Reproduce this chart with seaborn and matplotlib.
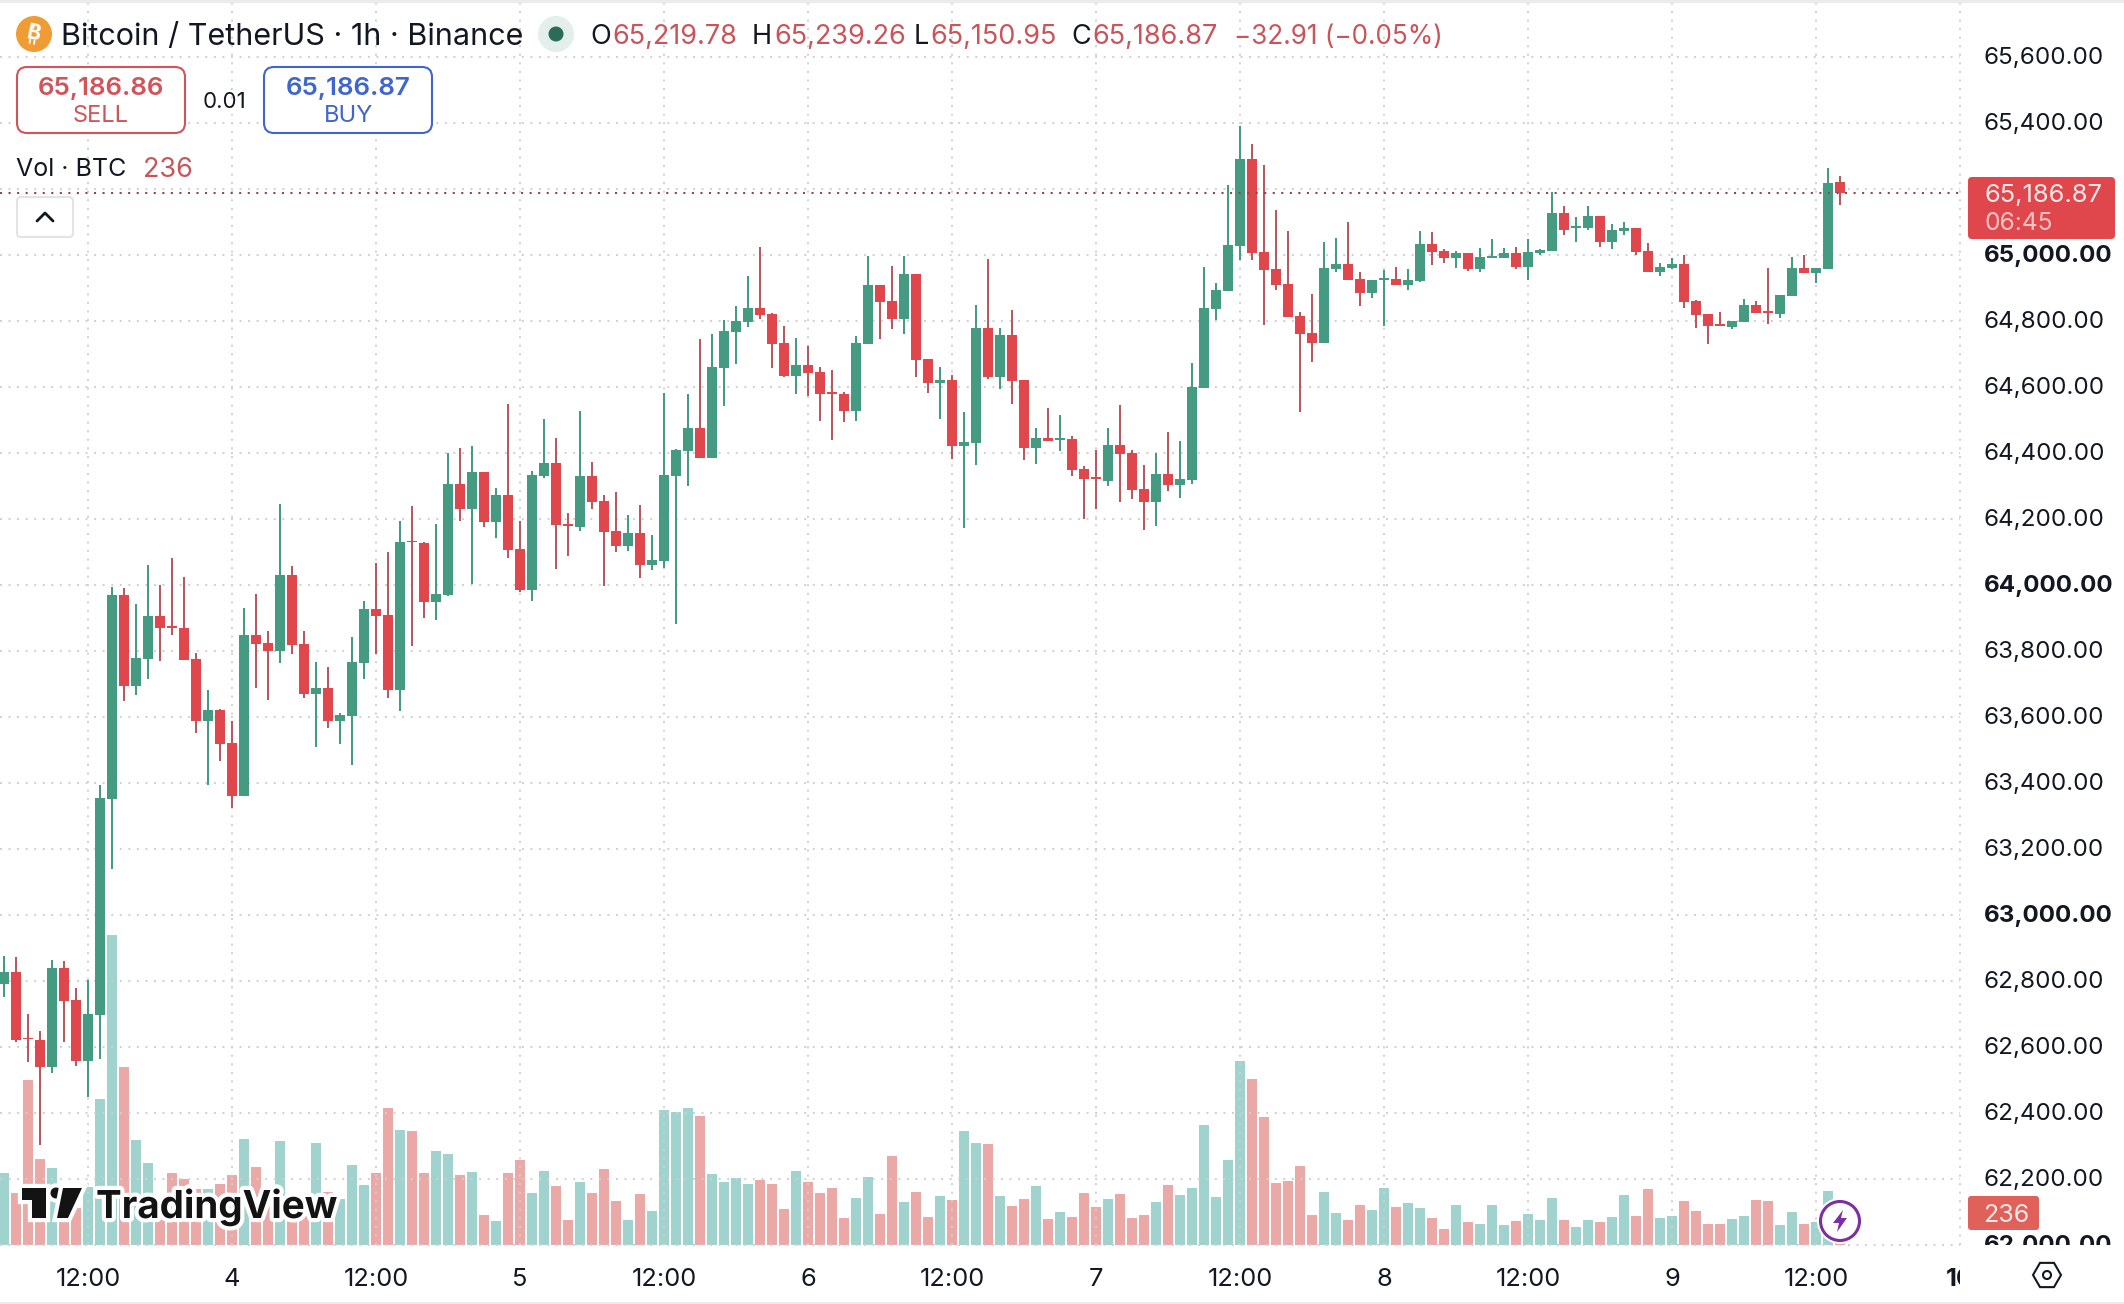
# BTC/USDT 1h candles + volume, TradingView style
import numpy as np
import pandas as pd
import matplotlib
matplotlib.use("Agg")
import matplotlib.pyplot as plt
import matplotlib.patheffects as pe
from matplotlib.patches import Circle, FancyBboxPatch, Polygon, Rectangle, RegularPolygon
from matplotlib.transforms import Affine2D, Bbox, TransformedBbox
import seaborn as sns

# ---------- DATA ----------
opens = [62790, 62827, 62626, 62621, 62540, 62838, 62741, 62558, 62697, 63353,
         63970, 63694, 63776, 63906, 63876, 63870, 63776, 63588, 63621, 63521,
         63361, 63849, 63824, 63800, 64030, 63821, 63670, 63688, 63588, 63603,
         63764, 63927, 63909, 63682, 64133, 64127, 63948, 63970, 64306, 64230,
         64342, 64191, 64273, 64109, 63985, 64330, 64370, 64184, 64176, 64330,
         64255, 64164, 64118, 64158, 64061, 64073, 64330, 64406, 64476, 64385,
         64658, 64767, 64797, 64839, 64821, 64733, 64633, 64667, 64645, 64584,
         64579, 64527, 64730, 64909, 64861, 64806, 64942, 64685, 64612, 64621,
         64421, 64430, 64779, 64630, 64758, 64621, 64415, 64445, 64439, 64442,
         64351, 64326, 64315, 64424, 64400, 64291, 64252, 64336, 64303, 64318,
         64597, 64836, 64891, 65027, 65290, 65009, 64958, 64912, 64815, 64764,
         64733, 64958, 64973, 64927, 64885, 64924, 64927, 64909, 64921, 65033,
         65012, 64991, 65006, 64958, 64991, 64991, 65006, 64964, 65006, 65012,
         65127, 65082, 65082, 65118, 65039, 65073, 65082, 65012, 64948, 64961,
         64973, 64861, 64821, 64791, 64782, 64797, 64849, 64830, 64821, 64876,
         64961, 64945, 64958, 65219.78]
highs = [62876, 62873, 62699, 62648, 62863, 62861, 62778, 62802, 63393, 63994,
         63990, 63942, 64060, 64000, 64082, 64024, 63793, 63682, 63624, 63588,
         63930, 63973, 63861, 64245, 64058, 63861, 63767, 63752, 63612, 63842,
         63952, 64067, 64100, 64194, 64239, 64130, 64185, 64400, 64415, 64421,
         64342, 64294, 64548, 64194, 64345, 64503, 64445, 64218, 64527, 64373,
         64273, 64282, 64212, 64242, 64152, 64582, 64412, 64579, 64745, 64761,
         64803, 64845, 64936, 65024, 64824, 64785, 64749, 64724, 64661, 64652,
         64585, 64755, 64997, 64909, 64967, 64997, 64942, 64685, 64661, 64636,
         64524, 64849, 64988, 64779, 64833, 64621, 64476, 64536, 64515, 64452,
         64361, 64409, 64476, 64545, 64409, 64364, 64400, 64464, 64436, 64673,
         64964, 64915, 65212, 65391, 65336, 65273, 65136, 65073, 64827, 64882,
         65039, 65052, 65100, 64948, 64924, 64955, 64964, 64958, 65073, 65070,
         65018, 65012, 65006, 65021, 65048, 65021, 65024, 65048, 65018, 65191,
         65148, 65115, 65148, 65118, 65094, 65100, 65082, 65036, 64976, 64991,
         65000, 64864, 64821, 64827, 64800, 64867, 64861, 64961, 64879, 64994,
         65000, 64961, 65264, 65239.26]
lows = [62751, 62616, 62556, 62303, 62522, 62616, 62543, 62447, 62565, 63139,
        63649, 63667, 63715, 63770, 63849, 63773, 63552, 63394, 63467, 63324,
        63361, 63688, 63652, 63764, 63791, 63658, 63509, 63567, 63518, 63455,
        63715, 63791, 63658, 63618, 63815, 63900, 63894, 63967, 64194, 64003,
        64176, 64142, 64082, 63979, 63952, 64324, 64049, 64088, 64164, 64230,
        63997, 64100, 64103, 64021, 64045, 64052, 63882, 64300, 64385, 64385,
        64542, 64670, 64782, 64806, 64658, 64630, 64579, 64573, 64497, 64439,
        64494, 64497, 64730, 64745, 64776, 64761, 64630, 64582, 64503, 64382,
        64173, 64364, 64624, 64594, 64549, 64379, 64367, 64436, 64406, 64330,
        64200, 64230, 64300, 64252, 64261, 64167, 64179, 64285, 64264, 64306,
        64597, 64803, 64891, 64985, 64985, 64788, 64894, 64812, 64524, 64676,
        64733, 64948, 64924, 64845, 64870, 64785, 64909, 64894, 64918, 64970,
        64976, 64961, 64953, 64948, 64991, 64991, 64958, 64924, 65000, 65012,
        65061, 65039, 65076, 65024, 65018, 65061, 65000, 64948, 64936, 64958,
        64839, 64779, 64730, 64786, 64776, 64797, 64824, 64791, 64809, 64876,
        64945, 64914, 64958, 65150.95]
closes = [62827, 62622, 62624, 62540, 62838, 62740, 62558, 62699, 63354, 63970,
          63694, 63779, 63906, 63870, 63871, 63773, 63588, 63621, 63518, 63361,
          63849, 63821, 63800, 64030, 63818, 63670, 63688, 63588, 63606, 63767,
          63927, 63906, 63682, 64130, 64129, 63948, 63973, 64306, 64230, 64342,
          64191, 64273, 64106, 63985, 64333, 64370, 64182, 64178, 64330, 64252,
          64161, 64118, 64158, 64061, 64076, 64333, 64409, 64476, 64385, 64661,
          64770, 64800, 64839, 64818, 64730, 64633, 64667, 64642, 64579, 64580,
          64527, 64733, 64909, 64858, 64806, 64942, 64682, 64612, 64621, 64421,
          64433, 64779, 64630, 64758, 64618, 64415, 64445, 64436, 64445, 64348,
          64321, 64321, 64424, 64397, 64288, 64252, 64336, 64303, 64321, 64600,
          64839, 64894, 65030, 65290, 65006, 64955, 64909, 64812, 64761, 64733,
          64961, 64973, 64924, 64885, 64924, 64930, 64909, 64924, 65033, 65009,
          64991, 65006, 64958, 64994, 64997, 65006, 64964, 65009, 65015, 65127,
          65076, 65088, 65118, 65039, 65076, 65082, 65009, 64948, 64964, 64973,
          64858, 64818, 64785, 64786, 64800, 64849, 64824, 64825, 64879, 64961,
          64945, 64961, 65218, 65186.87]
volumes = [529, 381, 1215, 632, 566, 295, 276, 428, 1075, 2285,
           1311, 772, 603, 271, 529, 485, 411, 411, 448, 514,
           780, 573, 320, 765, 295, 295, 750, 391, 342, 588,
           440, 529, 1009, 846, 839, 529, 691, 669, 514, 536,
           219, 175, 529, 625, 381, 544, 433, 182, 462, 381,
           558, 322, 182, 374, 248, 994, 979, 1009, 950, 522,
           462, 492, 448, 477, 448, 263, 544, 462, 381, 418,
           197, 344, 499, 226, 654, 315, 389, 204, 359, 330,
           839, 750, 743, 359, 285, 337, 433, 189, 241, 204,
           381, 278, 337, 374, 197, 219, 315, 440, 367, 418,
           883, 352, 625, 1355, 1223, 942, 455, 470, 581, 219,
           389, 234, 182, 293, 256, 418, 278, 308, 271, 197,
           116, 293, 167, 153, 293, 145, 175, 226, 182, 344,
           182, 130, 182, 167, 204, 367, 212, 411, 197, 212,
           322, 248, 153, 153, 189, 212, 330, 322, 145, 241,
           153, 167, 396, 236]

price_ticks = [65600, 65400, 65200, 65000, 64800, 64600, 64400, 64200, 64000,
               63800, 63600, 63400, 63200, 63000, 62800, 62600, 62400, 62200, 62000]
bold_prices = [65000, 64000, 63000, 62000]
# 65,200 sits behind the last-price tag, only its gridline shows
hidden_prices = [65200]
time_positions = [7, 19, 31, 43, 55, 67, 79, 91, 103, 115, 127, 139, 151, 163]
time_labels = ["12:00", "4", "12:00", "5", "12:00", "6", "12:00", "7", "12:00", "8",
               "12:00", "9", "12:00", "10"]
last_price = 65186.87

# ---------- COLOURS ----------
GREEN = "#459A82"
RED = "#E0474C"
RED_WICK = "#B9585E"
GREEN_VOL = "#A0D3CD"
RED_VOL = "#EAA9A7"
TEXT_RED = "#C9545A"
BLUE = "#3F66CC"
INK = "#131722"
GRID = "#CFD0D4"

# ---------- FRAME ----------
df = pd.DataFrame({"pos": np.arange(len(opens)), "open": opens, "high": highs,
                   "low": lows, "close": closes, "volume": volumes})
df["body_low"] = df[["open", "close"]].min(axis=1)
df["body"] = (df["close"] - df["open"]).abs()
df["wick"] = df["high"] - df["low"]
up = df[df["close"] >= df["open"]]
down = df[df["close"] < df["open"]]

# ---------- FIGURE ----------
sns.set_theme(style="white")
plt.rcParams["font.family"] = ["Inter", "DejaVu Sans"]

W, H = 2124, 1304
PLOT_RIGHT, PLOT_BOTTOM = 1960, 1245
fig = plt.figure(figsize=(W / 100, H / 100), dpi=100, facecolor="white")
rect = [0, (H - PLOT_BOTTOM) / H, PLOT_RIGHT / W, PLOT_BOTTOM / H]
ax_vol = fig.add_axes(rect, zorder=1)
ax = fig.add_axes(rect, zorder=2)
ax.patch.set_alpha(0)


def bars(axis, frame, y, width, color, bottom=0):
    sns.barplot(data=frame, x="pos", y=y, native_scale=True, width=width, color=color,
                saturation=1, errorbar=None, bottom=bottom, linewidth=0, ax=axis)


# ---------- VOLUME ----------
bars(ax_vol, up, "volume", 0.83, GREEN_VOL)
bars(ax_vol, down, "volume", 0.83, RED_VOL)

# ---------- CANDLES ----------
bars(ax, up, "wick", 0.13, GREEN, bottom=up["low"].to_numpy())
bars(ax, down, "wick", 0.13, RED_WICK, bottom=down["low"].to_numpy())
bars(ax, up, "body", 0.83, GREEN, bottom=up["body_low"].to_numpy())
bars(ax, down, "body", 0.83, RED, bottom=down["body_low"].to_numpy())

ax.axhline(last_price, color="#8A4A4E", lw=1.5, ls=(0, (1, 3.1)), zorder=3)

# ---------- AXES ----------
x_limits = (-1 / 3, 163)
for a in (ax, ax_vol):
    a.set_xlim(*x_limits)
    a.set_xlabel("")
    a.set_ylabel("")
    sns.despine(ax=a, left=True, bottom=True)
ax_vol.set_ylim(0, PLOT_BOTTOM * 7.375)
ax_vol.set_xticks([])
ax_vol.set_yticks([])
ax.set_ylim(62000, 65000 + 255 / 0.33)

ax.yaxis.tick_right()
ax.set_yticks(price_ticks)
ax.set_yticklabels(["" if p in hidden_prices else f"{p:,.2f}" for p in price_ticks])
ax.set_xticks(time_positions)
ax.set_xticklabels(time_labels)
ax.tick_params(axis="y", length=0, pad=16, labelsize=17.4, labelcolor=INK)
ax.tick_params(axis="x", length=0, pad=16.5, labelsize=18.3, labelcolor=INK)
ax.grid(True, color=GRID, lw=1.4, ls=(0, (1, 3.4)))
ax.set_axisbelow(True)
for line in ax.get_xgridlines() + ax.get_ygridlines():
    line.set_clip_on(False)

clip = TransformedBbox(Bbox([[0, (H - PLOT_BOTTOM) / H], [1, 1]]), fig.transFigure)
nudge = Affine2D().translate(1.5, 1.5)
for price, tick_text in zip(price_ticks, ax.get_yticklabels()):
    tick_text.set_clip_box(clip)
    tick_text.set_clip_on(True)
    tick_text.set_transform(tick_text.get_transform() + nudge)
    if price in bold_prices:
        tick_text.set_fontweight("bold")
clip_x = TransformedBbox(Bbox([[0, 0], [PLOT_RIGHT / W, 1]]), fig.transFigure)
for text, tick_text in zip(time_labels, ax.get_xticklabels()):
    tick_text.set_clip_box(clip_x)
    tick_text.set_clip_on(True)
    if text == "10":
        tick_text.set_fontweight("bold")

# ---------- OVERLAY (header, tags, logo), in pixels ----------
ov = fig.add_axes([0, 0, 1, 1], zorder=5)
ov.set_xlim(0, W)
ov.set_ylim(H, 0)
ov.axis("off")


def box(x0, y0, x1, y1, edge, face="white", lw=1.5, r=10):
    ov.add_patch(FancyBboxPatch((x0, y0), x1 - x0, y1 - y0, boxstyle=f"round,pad=0,rounding_size={r}",
                                edgecolor=edge, facecolor=face, lw=lw))


def label(x, y, s, size=19.5, color=INK, ha="left", **kw):
    return ov.text(x, y, s, fontsize=size, color=color, ha=ha, va="center", **kw)


ov.add_patch(Rectangle((0, 0), W, 2.5, color="#EBEBEB", lw=0))
ov.add_patch(Rectangle((0, H - 2.5), W, 2.5, color="#EBEBEB", lw=0))

# title row, the bitcoin sign has no glyph in the installed fonts so B plus strokes
ov.add_patch(Circle((34, 34), 18, color="#EF9C35", lw=0))
label(34, 34, "B", size=15, color="white", ha="center", rotation=-12, fontweight="bold")
for xs, ys in [([34, 33.4], [24.5, 28]), ([38.4, 37.8], [25.5, 29]),
               ([30.2, 29.6], [39.5, 43]), ([34.6, 34], [40.5, 44])]:
    ov.plot(xs, ys, color="white", lw=1.3)
label(61, 37, "Bitcoin / TetherUS \u00b7 1h \u00b7 Binance", size=22)
ov.add_patch(Circle((556, 34), 18, color="#E3EFEB", lw=0))
ov.add_patch(Circle((556, 34), 7.5, color="#2C6B58", lw=0))
for x, s in [(590, "O"), (752, "H"), (914, "L"), (1071, "C")]:
    label(x, 37, s)
for x, s in [(612, "65,219.78"), (774, "65,239.26"), (930, "65,150.95"), (1092, "65,186.87")]:
    label(x, 37, s, color=TEXT_RED)
label(1234, 37, "\u221232.91 (\u22120.05%)", size=18.8, color=TEXT_RED)

# sell / buy
box(17, 67, 185, 133, "#D0555A")
label(101, 89, "65,186.86", size=18.7, color="#D0555A", ha="center", fontweight="semibold")
label(101, 116, "SELL", size=17, color="#D0555A", ha="center")
label(224, 102, "0.01", size=16, ha="center")
box(264, 67, 432, 133, BLUE)
label(348, 89, "65,186.87", size=18.7, color=BLUE, ha="center", fontweight="semibold")
label(348, 116, "BUY", size=17, color=BLUE, ha="center")

label(16, 170, "Vol \u00b7 BTC", size=18)
label(143, 170, "236", size=19.5, color=TEXT_RED)

# collapse button
box(17, 197, 73, 237, "#E2E3E6", lw=1.5, r=4)
ov.plot([37, 45, 53], [221, 213, 221], color=INK, lw=2.0, solid_capstyle="round")

# price tags
box(1968, 177, 2115, 239, RED, face=RED, lw=0, r=4)
label(1984, 195, "65,186.87", size=18.3, color="#FBEAEA")
label(1984, 223, "06:45", size=17.7, color="#F7C4C6")
box(1968, 1196, 2039, 1230, "#E0615A", face="#E0615A", lw=0, r=3)
label(2006, 1215, "236", size=18, color="#FBEAEA", ha="center")

# settings hexagon
ov.add_patch(RegularPolygon((2047, 1275), 6, radius=14, orientation=np.pi / 6, fill=False, edgecolor=INK, lw=1.5))
ov.add_patch(Circle((2047, 1275), 4, fill=False, edgecolor=INK, lw=1.5))

# lightning badge
ov.add_patch(Circle((1840, 1221), 23, color="white", lw=0))
ov.add_patch(Circle((1840, 1221), 19.5, facecolor="white", edgecolor="#7B2FA1", lw=2.2))
ov.add_patch(Polygon([(1843, 1210), (1833, 1223), (1839, 1223), (1837, 1232), (1847, 1218), (1841, 1218)],
                     closed=True, color="#7B2FA1", lw=0))

# TradingView logo
halo = [pe.withStroke(linewidth=6, foreground="white")]
logo = [Polygon([(22, 1188), (46, 1188), (46, 1218), (32, 1218), (32, 1200), (22, 1200)], closed=True),
        Circle((56, 1193), 5.5),
        Polygon([(63, 1188), (82, 1188), (68, 1218), (57, 1218)], closed=True)]
for shape in logo:
    shape.set(facecolor="#131313", edgecolor="none", lw=0, path_effects=halo)
    ov.add_patch(shape)
ov.text(96, 1218, "TradingView", fontsize=27.7, fontweight="bold", color="#131313", ha="left", va="baseline",
        path_effects=halo)

fig.savefig("out.png", dpi=100, facecolor="white")
